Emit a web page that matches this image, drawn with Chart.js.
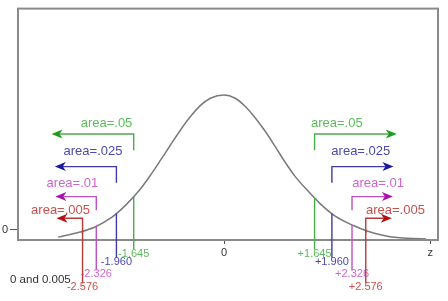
<!DOCTYPE html>
<html>
<head>
<meta charset="utf-8">
<script src="https://cdn.jsdelivr.net/npm/chart.js@4/dist/chart.umd.min.js"></script>
<style>
  html, body { margin: 0; padding: 0; background: #fff; }
  #chart { display: block; }
</style>
</head>
<body>
<canvas id="chart" width="448" height="301"></canvas>
<script>
// curve (z, height)
var curveZ = [-3.02, -2.62, -2.35, -2.04, -1.80, -1.55, -1.35, -1.16, -0.98, -0.80, -0.62, -0.44, -0.25, 0,
              0.20, 0.38, 0.56, 0.75, 0.93, 1.11, 1.29, 1.51, 1.75, 2.02, 2.35, 2.60, 3.02, 3.67];
var curveY = [0.008, 0.022, 0.036, 0.063, 0.095, 0.136, 0.177, 0.220, 0.262, 0.303, 0.340, 0.371, 0.392, 0.401,
              0.392, 0.370, 0.339, 0.300, 0.258, 0.215, 0.176, 0.138, 0.100, 0.066, 0.040, 0.025, 0.009, 0.003];

// critical values and their tail areas
var critZ = [1.645, 1.96, 2.326, 2.576];
var critLabels = ["1.645", "1.960", "2.326", "2.576"];
var areaLabels = ["area=.05", "area=.025", "area=.01", "area=.005"];

// bracket arrows (in axis units)
var arrowLevels = [0.293, 0.203, 0.120, 0.060];
var dropEnds = [0.248, 0.158, 0.082, 0.019];
var arrowTips = [3.14, 3.08, 3.07, 3.05];
var areaLabelLevels = [0.322, 0.244, 0.157, 0.082];
var areaLabelLeftZ = [-1.67, -1.85, -2.29, -2.44];   // right end of left labels
var areaLabelRightZ = [1.58, 1.95, 2.33, 2.58];      // left end of right labels
var lineEnds = [-0.038, -0.060, -0.095, -0.131];

// axis ticks
var xTickValues = [0, 3.75];
var xTickLabels = ["0", "z"];
var yTickValues = [0.029];
var yTickLabels = ["0"];
var caption = "0 and 0.005";

var lineColors = ["#4aad4a", "#3c3ca4", "#c050c0", "#b83a3a"];
var headColors = ["#1c9c1c", "#1a1a9c", "#a812a8", "#b01212"];
var textColors = ["#5cbc5c", "#4a4aac", "#cc66cc", "#c85050"];

function curveAt(z) {
    for (var i = 0; i < curveZ.length - 1; i++) {
        if (z >= curveZ[i] && z <= curveZ[i + 1]) {
            var t = (z - curveZ[i]) / (curveZ[i + 1] - curveZ[i]);
            return curveY[i] + t * (curveY[i + 1] - curveY[i]);
        }
    }
    return 0;
}

var annotate = {
    id: "annotate",
    afterDatasetsDraw: function (chart) {
        var ctx = chart.ctx;
        var xs = chart.scales.x;
        var ys = chart.scales.y;
        var a = chart.chartArea;
        ctx.save();

        // frame
        ctx.strokeStyle = "#8a8a8a";
        ctx.lineWidth = 2;
        ctx.strokeRect(a.left, a.top, a.right - a.left, a.bottom - a.top);

        for (var i = 0; i < critZ.length; i++) {
            [-1, 1].forEach(function (side) {
                var z = side * critZ[i];
                var px = xs.getPixelForValue(z);
                var top = ys.getPixelForValue(curveAt(z));
                var bot = ys.getPixelForValue(lineEnds[i]);
                var yL = ys.getPixelForValue(arrowLevels[i]);
                var yD = ys.getPixelForValue(dropEnds[i]);
                var tip = xs.getPixelForValue(side * arrowTips[i]);

                ctx.strokeStyle = lineColors[i];
                ctx.lineWidth = 1.4;
                // line from the curve down past the axis
                ctx.beginPath();
                ctx.moveTo(px, top);
                ctx.lineTo(px, bot - 4);
                ctx.stroke();

                // bracket
                ctx.beginPath();
                ctx.moveTo(px, yD);
                ctx.lineTo(px, yL);
                ctx.lineTo(tip - side * 8, yL);
                ctx.stroke();

                // arrow head
                ctx.fillStyle = headColors[i];
                ctx.beginPath();
                ctx.moveTo(tip, yL);
                ctx.lineTo(tip - side * 11, yL - 4.5);
                ctx.lineTo(tip - side * 8, yL);
                ctx.lineTo(tip - side * 11, yL + 4.5);
                ctx.closePath();
                ctx.fill();

                // area label
                ctx.fillStyle = textColors[i];
                ctx.font = "13px 'Liberation Sans', Arial, sans-serif";
                ctx.textBaseline = "middle";
                ctx.textAlign = side < 0 ? "right" : "left";
                var lx = xs.getPixelForValue(side < 0 ? areaLabelLeftZ[i] : areaLabelRightZ[i]);
                ctx.fillText(areaLabels[i], lx, ys.getPixelForValue(areaLabelLevels[i]));

                // critical value label
                ctx.font = "11px 'Liberation Sans', Arial, sans-serif";
                ctx.textAlign = "center";
                ctx.fillText((side < 0 ? "-" : "+") + critLabels[i], px, bot);
            });
        }

        ctx.fillStyle = "#333";
        ctx.font = "11.5px 'Liberation Sans', Arial, sans-serif";
        ctx.textAlign = "left";
        ctx.textBaseline = "middle";
        ctx.fillText(caption, 10, 280);
        ctx.restore();
    }
};

var points = curveZ.map(function (z, i) {
    return { x: z, y: curveY[i] };
});

new Chart(document.getElementById("chart").getContext("2d"), {
    type: "scatter",
    data: {
        datasets: [
            {
                data: points,
                showLine: true,
                borderColor: "#7a7a7a",
                borderWidth: 1.5,
                pointRadius: 0,
                cubicInterpolationMode: "monotone",
                fill: false
            }
        ]
    },
    options: {
        responsive: false,
        animation: false,
        devicePixelRatio: 1,
        layout: { padding: { left: 0, top: 5, right: 10, bottom: 0 } },
        plugins: {
            legend: { display: false },
            tooltip: { enabled: false }
        },
        scales: {
            x: {
                type: "linear",
                min: -3.75,
                max: 3.89,
                afterFit: function (scale) { scale.height = 61; },
                afterBuildTicks: function (scale) {
                    scale.ticks = xTickValues.map(function (v) { return { value: v }; });
                },
                ticks: {
                    color: "#333",
                    font: { size: 11, family: "'Liberation Sans', Arial, sans-serif" },
                    padding: 2,
                    maxRotation: 0,
                    callback: function (value) {
                        var k = xTickValues.indexOf(value);
                        return k >= 0 ? xTickLabels[k] : "";
                    }
                },
                grid: { drawOnChartArea: false, drawTicks: true, tickLength: 4, color: "#555" },
                border: { display: false }
            },
            y: {
                type: "linear",
                min: 0,
                max: 0.64,
                afterFit: function (scale) { scale.width = 18; },
                afterBuildTicks: function (scale) {
                    scale.ticks = yTickValues.map(function (v) { return { value: v }; });
                },
                ticks: {
                    color: "#333",
                    font: { size: 11, family: "'Liberation Sans', Arial, sans-serif" },
                    padding: 2,
                    callback: function (value) {
                        var k = yTickValues.indexOf(value);
                        return k >= 0 ? yTickLabels[k] : "";
                    }
                },
                grid: { drawOnChartArea: false, drawTicks: true, tickLength: 8, color: "#555" },
                border: { display: false }
            }
        }
    },
    plugins: [annotate]
});
</script>
</body>
</html>
